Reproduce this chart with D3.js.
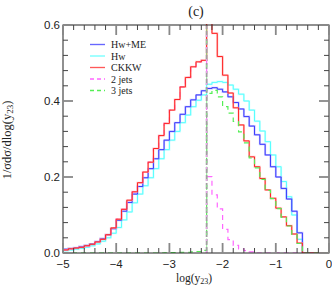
<!DOCTYPE html>
<html><head><meta charset="utf-8">
<script src="https://cdn.jsdelivr.net/npm/d3@7"></script>
<style>body{margin:0;background:#fff}svg{display:block}</style>
</head><body>
<svg id="c" width="332" height="286"></svg>
<script>
// ---- data: 50 bins of width 0.1 in log(y23), from -5 to 0 ----
const binStart = -5;
const binWidth = 0.1;
const hwME = [0.010,0.012,0.014,0.017,0.020,0.024,0.030,0.038,0.048,0.064,
              0.086,0.110,0.133,0.155,0.175,0.198,0.222,0.248,0.272,0.297,
              0.320,0.343,0.365,0.385,0.403,0.416,0.427,0.433,0.435,0.431,
              0.424,0.411,0.396,0.379,0.359,0.334,0.311,0.286,0.258,0.227,
              0.200,0.170,0.142,0.110,0.053,0,0,0,0,0];
const hw   = [0.006,0.008,0.010,0.012,0.015,0.019,0.024,0.031,0.040,0.052,
              0.067,0.087,0.108,0.132,0.155,0.177,0.198,0.222,0.248,0.272,
              0.297,0.320,0.343,0.363,0.385,0.402,0.416,0.444,0.449,0.451,
              0.449,0.442,0.431,0.418,0.400,0.376,0.347,0.321,0.293,0.258,
              0.227,0.188,0.148,0.100,0.036,0,0,0,0,0];
const ckkw = [0.008,0.011,0.013,0.015,0.019,0.023,0.029,0.036,0.048,0.066,
              0.089,0.115,0.139,0.161,0.185,0.213,0.239,0.275,0.309,0.341,
              0.376,0.404,0.437,0.462,0.490,0.503,0.507,0.630,0.578,0.517,
              0.468,0.421,0.382,0.337,0.295,0.253,0.227,0.196,0.166,0.144,
              0.118,0.095,0.072,0.050,0.026,0,0,0,0,0];
const jets2 = [0.008,0.011,0.013,0.015,0.019,0.023,0.029,0.036,0.048,0.066,
              0.089,0.115,0.139,0.161,0.185,0.213,0.239,0.275,0.309,0.341,
              0.376,0.404,0.437,0.462,0.490,0.503,0.507,0.201,0.153,0.116,
              0.062,0.035,0.020,0.011,0.006,0.003,0,0,0,0,
              0,0,0,0,0,0,0,0,0,0];
const jets3 = [0,0,0,0,0,0,0,0,0,0,
              0,0,0,0,0,0,0,0,0,0.0005,
              0.001,0.001,0.002,0.002,0.003,0.004,0.007,0.420,0.428,0.411,
              0.385,0.368,0.346,0.319,0.290,0.250,0.224,0.194,0.165,0.143,
              0.117,0.094,0.071,0.049,0.025,0,0,0,0,0];
const seriesNames = ["Hw+ME","Hw","CKKW","2 jets","3 jets"];
const xTicks = [-5,-4,-3,-2,-1,0];
const yTicks = [0,0.2,0.4,0.6];
const cutLog = -2.3;

// ---- drawing ----
const svg = d3.select("#c");
const L = 63, R = 329, T = 25, B = 253;
const x = d3.scaleLinear().domain([-5,0]).range([L,R]);
const y = d3.scaleLinear().domain([0,0.6]).range([B,T]);

svg.append("defs").append("clipPath").attr("id","clip")
  .append("rect").attr("x",L).attr("y",T-1).attr("width",R-L).attr("height",B-T+1);

const styles = [
  {color:"#3a3aff", halo:"#a0a0ff", dash:null},
  {color:"#55ffff", halo:"#b0ffff", dash:null},
  {color:"#ff2222", halo:"#ffa0a0", dash:null},
  {color:"#ff66ff", halo:null, dash:"5,4"},
  {color:"#55ee55", halo:null, dash:"5,4"}
];
const allSeries = [hwME, hw, ckkw, jets2, jets3];

const line = d3.line().x(d=>x(d[0])).y(d=>y(d[1])).curve(d3.curveStepAfter);
function pts(vals){
  const p = vals.map((v,i)=>[binStart+i*binWidth, v]);
  p.push([binStart+vals.length*binWidth, vals[vals.length-1]]);
  return p;
}
const g = svg.append("g").attr("clip-path","url(#clip)");

const order = [1,0,3,2,4];
order.forEach(k=>{
  const s = styles[k];
  if (s.halo) g.append("path").attr("d",line(pts(allSeries[k]))).attr("fill","none")
      .attr("stroke",s.halo).attr("stroke-width",2).attr("opacity",0.6);
  const p = g.append("path").attr("d",line(pts(allSeries[k]))).attr("fill","none")
      .attr("stroke",s.color).attr("stroke-width",1);
  if (s.dash) p.attr("stroke-dasharray",s.dash).attr("stroke-width",1.2);
});

// cut line (drawn on top, gray dashed with tinted bits)
g.append("line").attr("x1",x(cutLog)).attr("x2",x(cutLog)).attr("y1",y(0)).attr("y2",y(0.6))
  .attr("stroke","#a0a0a0").attr("stroke-width",1.8).attr("stroke-dasharray","6,2");
g.append("line").attr("x1",x(cutLog)).attr("x2",x(cutLog)).attr("y1",y(0)).attr("y2",y(0.6))
  .attr("stroke","#ff99ff").attr("stroke-width",1.2).attr("stroke-dasharray","2,10").attr("opacity",0.8);
g.append("line").attr("x1",x(cutLog)).attr("x2",x(cutLog)).attr("y1",y(0)).attr("y2",y(0.6))
  .attr("stroke","#88ee88").attr("stroke-width",1.2).attr("stroke-dasharray","2,10").attr("stroke-dashoffset",6).attr("opacity",0.8);

// frame
svg.append("rect").attr("x",L).attr("y",T).attr("width",R-L).attr("height",B-T)
  .attr("fill","none").attr("stroke","#222").attr("stroke-width",1);

// ticks
const ax = svg.append("g");
d3.range(-5,0.001,0.2).forEach(v=>{
  const major = Math.abs(v-Math.round(v))<1e-6;
  const len = major?10:5;
  [[B,-1],[T,1]].forEach(([y0,dir])=>{
    ax.append("line").attr("x1",x(v)).attr("x2",x(v)).attr("y1",y0).attr("y2",y0+dir*len)
      .attr("stroke",major?"#888":"#444").attr("stroke-width",major?1.8:1);
  });
});
d3.range(0,0.6001,0.04).forEach(v=>{
  const major = Math.abs(v/0.2-Math.round(v/0.2))<1e-6;
  const len = major?10:5;
  [[L,1],[R,-1]].forEach(([x0,dir])=>{
    ax.append("line").attr("y1",y(v)).attr("y2",y(v)).attr("x1",x0).attr("x2",x0+dir*len)
      .attr("stroke",major?"#888":"#444").attr("stroke-width",major?1.8:1);
  });
});

const fmtX = d3.format("d"), fmtY = d3.format(".1f");
xTicks.forEach(v=>{
  svg.append("text").attr("x",x(v)).attr("y",268).attr("text-anchor","middle")
    .attr("font-family","Liberation Sans, Arial, sans-serif").attr("font-size",11.5).attr("fill","#222")
    .text(fmtX(v));
});
yTicks.forEach(v=>{
  svg.append("text").attr("x",60).attr("y",y(v)+4).attr("text-anchor","end")
    .attr("font-family","Liberation Sans, Arial, sans-serif").attr("font-size",11.5).attr("fill","#222")
    .text(fmtY(v));
});

// title
svg.append("text").attr("x",196).attr("y",16).attr("text-anchor","middle")
  .attr("font-family","Liberation Serif, Times New Roman, serif").attr("font-size",14).attr("fill","#222").text("(c)");

// x label
const xl = svg.append("text").attr("x",194).attr("y",282).attr("text-anchor","middle")
  .attr("font-family","Liberation Serif, Times New Roman, serif").attr("font-size",11.5).attr("fill","#222");
xl.append("tspan").text("log(y");
xl.append("tspan").attr("font-size",8).attr("dy",2).text("23");
xl.append("tspan").attr("dy",-2).text(")");

// y label
const yl = svg.append("text").attr("transform","translate(11,140) rotate(-90)").attr("text-anchor","middle")
  .attr("font-family","Liberation Serif, Times New Roman, serif").attr("font-size",12.5).attr("fill","#222");
yl.append("tspan").text("1/σdσ/dlog(y");
yl.append("tspan").attr("font-size",9).attr("dy",2).text("23");
yl.append("tspan").attr("dy",-2).text(")");

// legend
const lg = svg.append("g");
seriesNames.forEach((n,i)=>{
  const yy = 44.5 + i*11.5;
  const s = styles[i];
  const l = lg.append("line").attr("x1",90).attr("x2",105).attr("y1",yy).attr("y2",yy)
    .attr("stroke",s.halo||s.color).attr("stroke-width",s.dash?1.3:1.6);
  if (s.halo) lg.append("line").attr("x1",90).attr("x2",105).attr("y1",yy).attr("y2",yy)
    .attr("stroke",s.color).attr("stroke-width",0.8).attr("opacity",0.7);
  if (s.dash) l.attr("stroke-dasharray","4,3");
  lg.append("text").attr("x",111).attr("y",yy+3.5)
    .attr("font-family","Liberation Serif, Times New Roman, serif").attr("font-size",10).attr("fill","#222").text(n);
});
</script>
</body></html>
